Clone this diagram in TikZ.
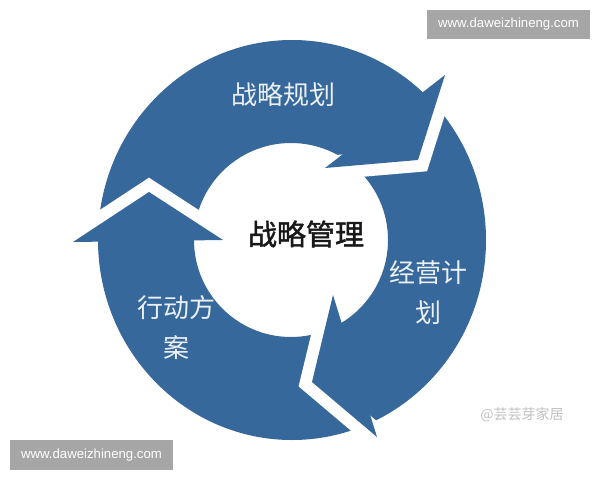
\documentclass[tikz,border=0pt]{standalone}
\usepackage{fontspec}
\setmainfont{Liberation Sans}
\newfontfamily\cjk{Noto Sans CJK SC}
\usepackage{xcolor}
\definecolor{ringblue}{HTML}{37689B}
\definecolor{markgray}{HTML}{A6A6A6}
\tikzset{
	cyclelabel/.style={text=white!90!ringblue, font=\cjk\fontsize{26}{40}\selectfont, align=center, inner sep=0pt},
	gapline/.style={white, line width=24, line join=miter},
	webmark/.style={fill=markgray, text=white, font=\fontsize{13.2}{15}\selectfont, inner sep=0pt, minimum width=163, minimum height=29.5},
}

\begin{document}
\begin{tikzpicture}[x=1pt,y=-1pt]
	\useasboundingbox (0,0) rectangle (600,480);
	
	\fill[ringblue,even odd rule] (292,240) ellipse [x radius=194, y radius=200] (291,240) circle (97);
	
	\draw[gapline] (445,75) -- (418,160) -- (325,168);
	\draw[gapline] (333,295) -- (312,382) -- (377,437);
	\draw[gapline] (73,242) -- (149,192) -- (223,240);
	
	\fill[ringblue] (445,75) -- (418,160) -- (325,168) -- cycle;
	\fill[ringblue] (333,295) -- (312,382) -- (377,437) -- cycle;
	\fill[ringblue] (73,242) -- (149,192) -- (223,240) -- cycle;
	
	\node[cyclelabel] (plan) at (283,95) {战略规划};
	\node[cyclelabel] (operate) at (428,293) {经营计\\划};
	\node[cyclelabel] (action) at (176,328) {行动方\\案};
	\node[font=\cjk\fontsize{29}{34}\selectfont\addfontfeature{FakeBold=1.5}, text=black!90, inner sep=0pt] (core) at (306,234) {战略管理};
	
	\node[text=black!25, font=\cjk\fontsize{14}{16}\selectfont] (sign) at (522,415) {@芸芸芽家居};
	
	\node[webmark] (markTop) at (508.5,24.5) {www.daweizhineng.com};
	\node[webmark] (markBottom) at (91.5,455) {www.daweizhineng.com};
	
\end{tikzpicture}
\end{document}
